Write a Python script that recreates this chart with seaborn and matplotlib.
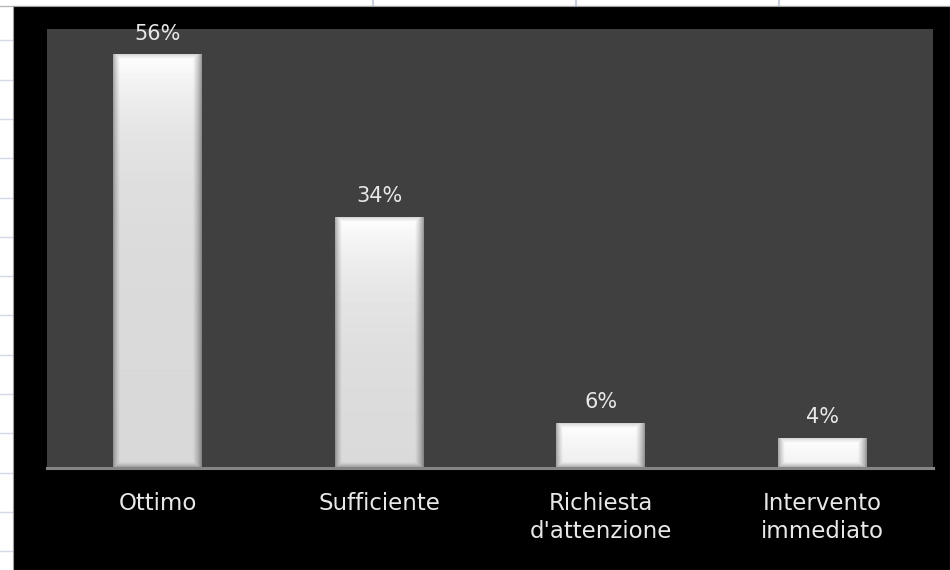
import numpy as np
import pandas as pd
import matplotlib
matplotlib.use("Agg")
import matplotlib.pyplot as plt
from matplotlib.patches import Rectangle
from matplotlib.lines import Line2D
import seaborn as sns

categories = ["Ottimo", "Sufficiente", "Richiesta\nd'attenzione", "Intervento\nimmediato"]
values = [56, 34, 6, 4]
value_labels = ["56%", "34%", "6%", "4%"]

sns.set_theme(style="white")
plt.rcParams['font.family'] = ['DejaVu Sans']

W, H = 950, 570
fig = plt.figure(figsize=(9.5, 5.7), dpi=100)
fig.patch.set_facecolor('white')


def fx(x):
    return x / W


def fy(y):
    return 1 - y / H


# spreadsheet background decoration
for y in np.arange(40.4, 570, 39.3):
    fig.add_artist(Line2D([0, fx(13)], [fy(y), fy(y)], color='#d3d9e6', lw=1, zorder=-3))
for x in [373, 576, 779]:
    fig.add_artist(Line2D([fx(x), fx(x)], [fy(0), fy(6)], color='#c8cfdc', lw=1.5, zorder=-3))
fig.add_artist(Line2D([0, 1], [fy(5.5), fy(5.5)], color='#b8b8b8', lw=1, zorder=-3))
fig.add_artist(Rectangle((fx(13), 0), 1 - fx(13), fy(6), transform=fig.transFigure,
                         facecolor='black', edgecolor='#a0a0a0', lw=0.8, zorder=-1))

ax_w_px, ax_h_px = 933 - 47, 468 - 29
ax = fig.add_axes([fx(47), fy(468), ax_w_px / W, ax_h_px / H])
ax.set_facecolor('#404040')

df = pd.DataFrame({'cat': categories, 'val': values})
sns.barplot(data=df, x='cat', y='val', color='white', width=0.4, ax=ax,
            saturation=1, edgecolor='none')

YMAX = 59.5
ax.set_xlim(-0.5, 3.5)
ax.set_ylim(0, YMAX)

# bevel-like gradient on each bar
for p, lbl in zip(ax.patches, value_labels):
    x0, w, h = p.get_x(), p.get_width(), p.get_height()
    wpx = int(round(w / 4 * ax_w_px))
    hpx = max(int(round(h / YMAX * ax_h_px)), 2)
    u = np.arange(wpx) + 0.5
    v = np.arange(hpx) + 0.5
    U, V = np.meshgrid(u, v)
    dl, dr, dt, db = U, wpx - U, V, hpx - V
    base = 0.85 + 0.15 * np.exp(-V / 70)

    def rim(d, lo, width):
        return lo + (1 - lo) * np.clip(d / width, 0, 1) ** 0.7

    f = np.minimum.reduce([rim(dl, 0.62, 7), rim(dr, 0.55, 9),
                           rim(dt, 0.8, 5), rim(db, 0.62, 6)])
    img = base * f
    ax.imshow(img, extent=(x0, x0 + w, 0, h), cmap='gray', vmin=0, vmax=1,
              aspect='auto', interpolation='bilinear', zorder=p.get_zorder() + 0.1)
    ax.annotate(lbl, (x0 + w / 2, h), xytext=(0, 11), textcoords='offset points',
                ha='center', va='baseline', color='#e8e8e8', fontsize=15)

ax.set_xlim(-0.5, 3.5)
ax.set_ylim(0, YMAX)
ax.set_xlabel('')
ax.set_ylabel('')
ax.set_yticks([])
ax.tick_params(axis='x', length=0, pad=17, labelsize=16.5, labelcolor='#e8e8e8')
for t in ax.get_xticklabels():
    t.set_linespacing(1.3)
for s in ['left', 'top', 'right']:
    ax.spines[s].set_visible(False)
ax.spines['bottom'].set_color('#858585')
ax.spines['bottom'].set_linewidth(2.2)

fig.savefig('out.png', dpi=100)
